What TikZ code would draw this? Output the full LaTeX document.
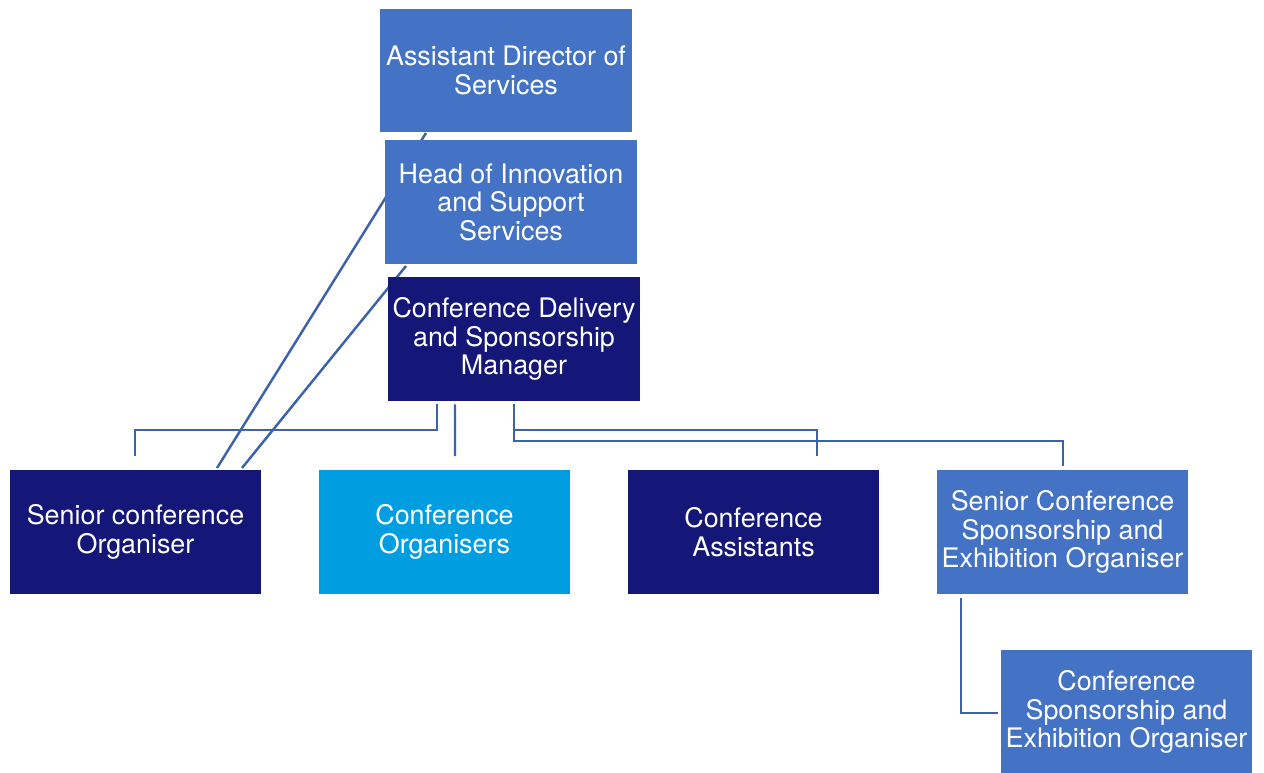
\documentclass[tikz,border=0pt]{standalone}
\usepackage{fontspec}
\setmainfont{TeX Gyre Heros}
\usepackage{xcolor}
\usepackage{tikz}
\usetikzlibrary{positioning}

\definecolor{midblue}{RGB}{68,114,196}
\definecolor{navyblue}{RGB}{20,22,120}
\definecolor{skyblue}{RGB}{0,158,224}
\definecolor{linkblue}{RGB}{60,98,170}

\begin{document}
\begin{tikzpicture}[
            x=0.02cm, y=-0.02cm,
            post/.style={rectangle, minimum width=5.04cm, minimum height=2.48cm,
                inner sep=0pt, align=center, text=white,
                font=\fontsize{15.3}{16.2}\selectfont},
            link/.style={draw=linkblue, line width=1.4pt}
        ]
            \useasboundingbox (0,0) rectangle (1264,773);
            % Slanted links, drawn first so the boxes hide them
            \coordinate (s1) at (217,468);
            \coordinate (s2) at (242,468);
            \coordinate (a1) at (426,133);
            \coordinate (h1) at (406,266);
            \draw[link] (s1) -- (a1);
            \draw[link] (s2) -- (h1);
            \begin{scope}[
                every node/.style={post}
            ]
                % Posts
                \node[fill=midblue]  (ads)   at ( 506, 70.5) {Assistant Director of\\Services};
                \node[fill=midblue]  (his)   at ( 511,202)   {Head of Innovation\\and Support\\Services};
                \node[fill=navyblue] (cdsm)  at ( 514,339)   {Conference Delivery\\and Sponsorship\\Manager};
                \node[fill=navyblue] (sco)   at ( 135.5,532) {Senior conference\\Organiser};
                \node[fill=skyblue]  (co)    at ( 444.5,532) {Conference\\Organisers};
                \node[fill=navyblue] (ca)    at ( 753.5,532) {Conference\\Assistants};
                \node[fill=midblue]  (scseo) at (1062.5,532) {Senior Conference\\Sponsorship and\\Exhibition Organiser};
                \node[fill=midblue]  (cseo)  at (1126.5,712) {Conference\\Sponsorship and\\Exhibition Organiser};
            \end{scope}
            % Reporting lines
            \coordinate (e1) at (135,456);
            \coordinate (e2) at (455,456);
            \coordinate (e3) at (817,456);
            \coordinate (e4) at (1063,466);
            \coordinate (e5) at (998,713);
            \draw[link] ([xshift=-1.54cm,yshift=-0.06cm]cdsm.south) |- (135,430) -- (e1);
            \draw[link] ([xshift=-1.18cm,yshift=-0.06cm]cdsm.south) -- (e2);
            \draw[link] ([yshift=-0.06cm]cdsm.south) |- (817,430) -- (e3);
            \draw[link] (514,430) |- (1063,441) -- (e4);
            \draw[link] ([xshift=-2.03cm,yshift=-0.08cm]scseo.south) |- (e5);
        \end{tikzpicture}
\end{document}
